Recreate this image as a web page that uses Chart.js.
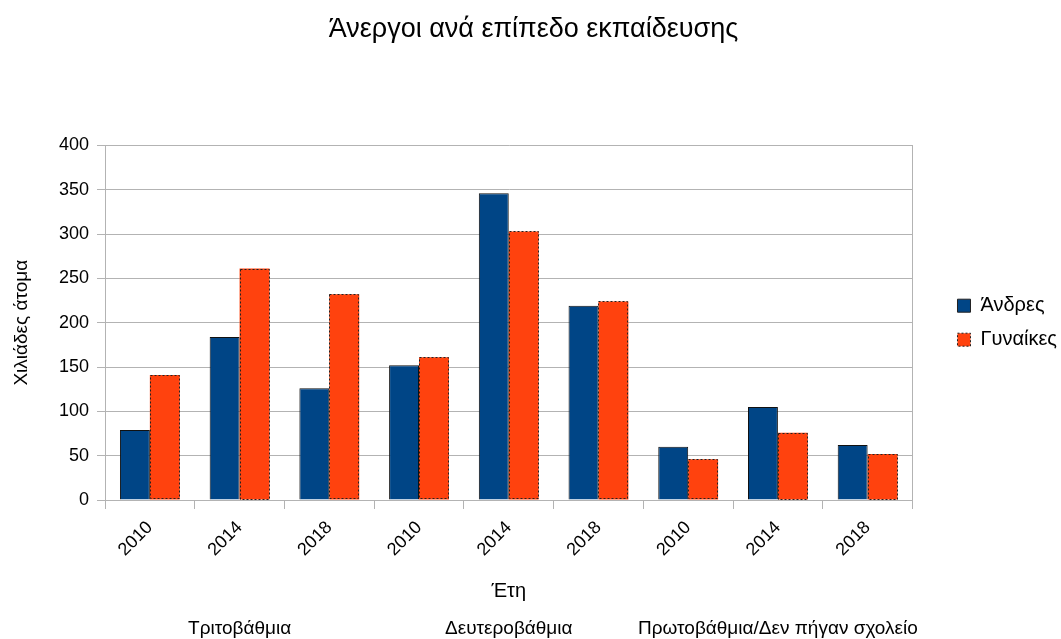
<!DOCTYPE html>
<html>
<head>
<meta charset="utf-8">
<script src="https://cdn.jsdelivr.net/npm/chart.js@4"></script>
<style>
  body { margin: 0; background: #fff; }
</style>
</head>
<body>
<canvas id="chart" width="1061" height="639"></canvas>
<script>
const years = ["2010", "2014", "2018", "2010", "2014", "2018", "2010", "2014", "2018"];
const levels = ["Τριτοβάθμια", "Δευτεροβάθμια", "Πρωτοβάθμια/Δεν πήγαν σχολείο"];
const men = [79, 184, 126, 152, 346, 219, 60, 105, 62];
const women = [141, 261, 232, 161, 303, 224, 46, 76, 52];
const yTicks = [0, 50, 100, 150, 200, 250, 300, 350, 400];

const gridColor = "#b3b3b3";
Chart.defaults.font.family = "'Liberation Sans', Arial, sans-serif";
Chart.defaults.color = "#000";

// orange bars get a dashed outline, chart.js bars can't do dashes
const dashedBars = {
  id: "dashedBars",
  afterDatasetsDraw(chart) {
    const ctx = chart.ctx;
    const meta = chart.getDatasetMeta(1);
    ctx.save();
    ctx.strokeStyle = "#222";
    ctx.lineWidth = 1;
    ctx.setLineDash([2, 2]);
    meta.data.forEach((bar) => {
      const p = bar.getProps(["x", "y", "base", "width"], true);
      const left = Math.round(p.x - p.width / 2) + 0.5;
      const top = Math.round(p.y) + 0.5;
      ctx.strokeRect(left, top, Math.round(p.width) - 1, Math.round(p.base - p.y) - 1);
    });
    ctx.restore();
  },
};

new Chart(document.getElementById("chart"), {
  type: "bar",
  data: {
    labels: years,
    datasets: [
      {
        label: "Άνδρες",
        data: men,
        backgroundColor: "#004586",
        borderColor: "#111",
        borderWidth: 1,
        borderSkipped: "bottom",
      },
      {
        label: "Γυναίκες",
        data: women,
        backgroundColor: "#ff420e",
        borderWidth: 0,
      },
    ],
  },
  options: {
    responsive: false,
    animation: false,
    categoryPercentage: 0.667,
    barPercentage: 1,
    layout: { padding: { left: 0, right: -6, top: 0, bottom: 0 } },
    plugins: {
      title: {
        display: true,
        text: "Άνεργοι ανά επίπεδο εκπαίδευσης",
        font: { size: 27, weight: "normal" },
        color: "#000",
        padding: { top: 13, bottom: 100 },
      },
      legend: {
        position: "right",
        fullSize: false,
        labels: {
          boxWidth: 13,
          boxHeight: 13,
          padding: 14,
          font: { size: 20 },
          color: "#000",
          generateLabels(chart) {
            const items = Chart.defaults.plugins.legend.labels.generateLabels(chart);
            items.forEach((item, i) => {
              item.strokeStyle = "#222";
              item.lineWidth = 1;
              if (i === 1) item.lineDash = [2, 2];
            });
            return items;
          },
        },
      },
      tooltip: { enabled: false },
    },
    scales: {
      x: {
        offset: true,
        grid: { offset: true, drawOnChartArea: false, tickLength: 9, color: gridColor },
        border: { color: gridColor },
        ticks: { minRotation: 45, maxRotation: 45, font: { size: 18 }, padding: 8 },
        title: { display: true, text: "Έτη", font: { size: 20 }, padding: { top: 4, bottom: 7 } },
        afterFit(scale) {
          scale.height = 110;
        },
      },
      x2: {
        type: "category",
        labels: levels,
        position: "bottom",
        offset: true,
        weight: 1,
        grid: { display: false, drawTicks: false, tickLength: 0 },
        border: { display: false },
        ticks: { font: { size: 19 }, padding: 7, minRotation: 0, maxRotation: 0, autoSkip: false },
        afterFit(scale) {
          scale.height = 29;
        },
      },
      y: {
        min: 0,
        max: 400,
        afterBuildTicks(scale) {
          scale.ticks = yTicks.map((v) => ({ value: v }));
        },
        grid: { color: gridColor, tickLength: 8 },
        border: { color: gridColor },
        ticks: { font: { size: 18 }, padding: 8 },
        title: { display: true, text: "Χιλιάδες άτομα", font: { size: 19 }, padding: { top: 10, bottom: 4 } },
        afterFit(scale) {
          scale.width = 105;
        },
      },
      y2: {
        position: "right",
        grid: { display: false },
        ticks: { display: false },
        border: { color: gridColor },
        afterFit(scale) {
          scale.width = 31;
        },
      },
    },
  },
  plugins: [dashedBars],
});
</script>
</body>
</html>
